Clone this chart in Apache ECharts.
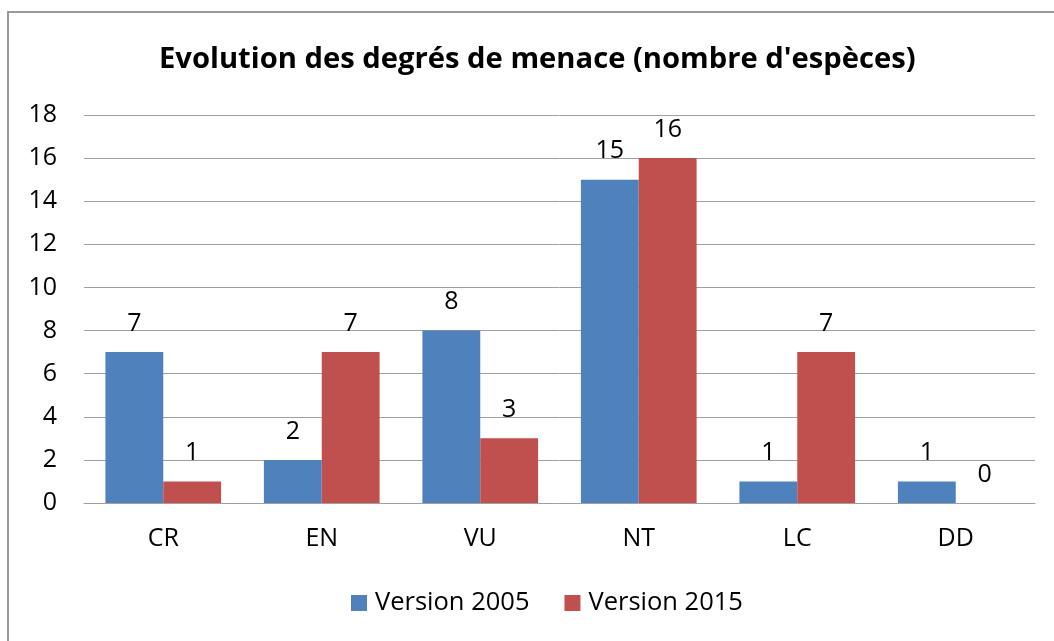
<!DOCTYPE html>
<html>
<head>
<meta charset="utf-8">
<script src="https://cdn.jsdelivr.net/npm/echarts@6/dist/echarts.min.js"></script>
<style>
  html, body { margin: 0; padding: 0; background: #fff; }
  #frame { position: absolute; left: 7px; top: 11px; width: 1100px; height: 700px;
           border-left: 2px solid #9a9a9a; border-top: 2px solid #9a9a9a; }
  #main { position: absolute; left: 0; top: 0; width: 1054px; height: 641px; }
</style>
</head>
<body>
<div id="frame"></div>
<div id="main"></div>
<script>
var categories = ['CR', 'EN', 'VU', 'NT', 'LC', 'DD'];
var v2005 = [7, 2, 8, 15, 1, 1];
var v2015 = [1, 7, 3, 16, 7, 0];
var seriesNames = ['Version 2005', 'Version 2015'];

var myChart = echarts.init(document.getElementById('main'));
var font = 'Open Sans';
myChart.setOption({
    color: ['#4f81bd', '#c0504d'],
    animation: false,
    title: {
        text: "Evolution des degrés de menace (nombre d'espèces)",
        left: 154,
        top: 40,
        textStyle: { fontFamily: font, fontWeight: 'bold', fontSize: 29.2, color: '#000' }
    },
    legend: {
        left: 346,
        bottom: 20,
        itemWidth: 16,
        itemHeight: 16,
        itemGap: 35,
        icon: 'rect',
        textStyle: { fontFamily: font, fontSize: 25.5, color: '#000', padding: [0, 0, 0, 3] },
        data: seriesNames
    },
    grid: { left: 84, right: 19, top: 115, bottom: 138 },
    xAxis: {
        type: 'category',
        data: categories,
        axisTick: { show: false },
        axisLine: { lineStyle: { color: '#a0a0a0' } },
        axisLabel: { fontFamily: font, fontSize: 25, color: '#000', margin: 23 }
    },
    yAxis: {
        type: 'value',
        min: 0, max: 18, interval: 2,
        axisLabel: { fontFamily: font, fontSize: 25, color: '#000', margin: 27 },
        splitLine: { lineStyle: { color: '#a0a0a0' } }
    },
    series: [
        {
            name: seriesNames[0], type: 'bar', data: v2005,
            barGap: '0%', barCategoryGap: '27%',
            label: { show: true, position: 'top', fontFamily: font, fontSize: 25, color: '#000', distance: 16 }
        },
        {
            name: seriesNames[1], type: 'bar', data: v2015,
            label: { show: true, position: 'top', fontFamily: font, fontSize: 25, color: '#000', distance: 16 }
        }
    ]
});
</script>
</body>
</html>
